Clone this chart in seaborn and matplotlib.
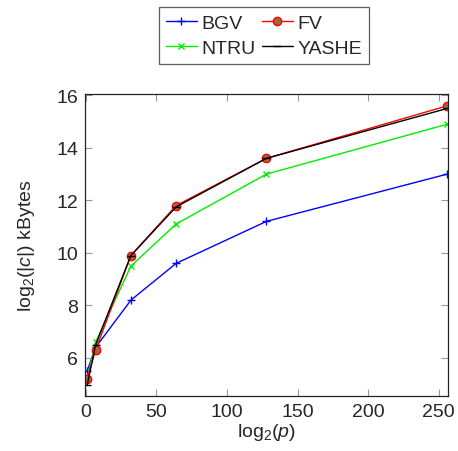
import numpy as np
import pandas as pd
import matplotlib
matplotlib.use("Agg")
import matplotlib.pyplot as plt
import seaborn as sns

# dados
log_p = [1, 7, 32, 64, 128, 256]
bgv = [5.5, 6.4, 8.2, 9.6, 11.2, 13.0]
ntru = [5.2, 6.6, 9.5, 11.1, 13.0, 14.9]
fv = [5.2, 6.3, 9.9, 11.8, 13.6, 15.6]
yashe = [4.95, 6.5, 9.9, 11.75, 13.6, 15.5]

sns.set_style("ticks")
plt.rcParams['font.family'] = ['Liberation Sans', 'DejaVu Sans']
plt.rcParams['mathtext.fontset'] = 'custom'
plt.rcParams['mathtext.rm'] = 'Liberation Sans'
plt.rcParams['mathtext.it'] = 'Liberation Sans:italic'

fig = plt.figure(figsize=(4.58, 4.52), dpi=100)
ax = fig.add_axes([0.1856, 0.1217, 0.7924, 0.6681])

# ordem: BGV, NTRU, FV, YASHE (legenda em colunas)
estilos = [
    ("BGV", bgv, dict(color="blue", marker="+", markersize=6, markeredgecolor="blue", markeredgewidth=1)),
    ("NTRU", ntru, dict(color="#00ee00", marker="x", markersize=4, markeredgecolor="#00ee00", markeredgewidth=1)),
    ("FV", fv, dict(color="red", marker="o", markersize=6, markerfacecolor="#a0683a",
                    markeredgecolor="red", markeredgewidth=1)),
    ("YASHE", yashe, dict(color="black", marker="_", markersize=6, markeredgecolor="black", markeredgewidth=1)),
]
for nome, vals, kw in estilos:
    sns.lineplot(x=log_p, y=vals, ax=ax, label=nome, linewidth=1, **kw)

ax.set_xlim(-0.5, 256.5)
ax.set_ylim(4.55, 16.05)
ax.set_xticks([0, 50, 100, 150, 200, 250])
ax.set_yticks([6, 8, 10, 12, 14, 16])
ax.tick_params(direction="in", top=True, right=True, color="#999999", labelsize=14, length=5, pad=5)
for s in ax.spines.values():
    s.set_color("#222222")
    s.set_linewidth(0.9)
ax.set_xlabel(r"log$_2$($p$)", fontsize=14, labelpad=1)
ax.set_ylabel(r"log$_2$(|$c$|) kBytes", fontsize=14, labelpad=14)

leg = ax.legend(loc="lower center", bbox_to_anchor=(0.493, 1.1), ncol=2, fontsize=14,
                frameon=True, fancybox=False, edgecolor="#333333", handlelength=1.6,
                columnspacing=0.3, handletextpad=0.25, labelspacing=0.4, borderpad=0.35,
                borderaxespad=0)
leg.get_frame().set_linewidth(0.9)

fig.savefig("out.png", dpi=100)
